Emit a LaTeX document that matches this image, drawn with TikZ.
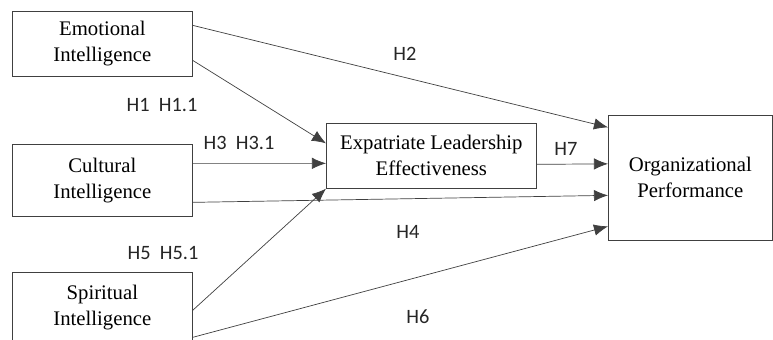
\documentclass[tikz,border=0pt]{standalone}
\usepackage{fontspec}
\setmainfont{Liberation Serif}
\newfontfamily\hypfont{Carlito}
\usetikzlibrary{arrows.meta,calc}

\begin{document}
\begin{tikzpicture}[x=0.02cm,y=-0.02cm,
 box/.style={draw=black!75,anchor=north west,inner sep=0pt,align=center,
  font=\fontsize{11.8}{14.8}\selectfont},
 hyp/.style={font=\hypfont\fontsize{11.6}{13}\selectfont,text=black!85},
 link/.style={draw=black!75,-{Latex[length=8pt,width=6.5pt]}}]

\useasboundingbox (0,0) rectangle (773,339);
%
\node[box,minimum width=3.6cm,minimum height=1.3cm] (emo) at (12,11)
 {Emotional\\Intelligence};
\node[box,minimum width=3.6cm,minimum height=1.44cm] (cul) at (12,144)
 {Cultural\\Intelligence};
\node[box,minimum width=3.6cm,minimum height=1.4cm] (spi) at (12,272)
 {Spiritual\\Intelligence};
\node[box,minimum width=4.2cm,minimum height=1.3cm] (ele) at (326,123)
 {Expatriate Leadership\\Effectiveness};
\node[box,minimum width=3.28cm,minimum height=2.5cm] (perf) at (608,115)
 {Organizational\\Performance};
%
\draw[link] ($(emo.east)+(0,-18.5)$) -- ($(perf.west)+(0,-50.5)$);
\draw[link] ($(emo.east)+(0,16.5)$) -- ($(ele.west)+(0,-12.5)$);
\draw[link] ($(cul.east)+(0,-17)$) -- ($(ele.west)+(0,7.5)$);
\draw[link] ($(cul.east)+(0,22)$) -- ($(perf.west)+(0,17.5)$);
\draw[link] ($(ele.east)+(0,8.5)$) -- ($(perf.west)+(0,-14)$);
\draw[link] ($(spi.east)+(0,3)$) -- (ele.south west);
\draw[link] ($(spi.east)+(0,30)$) -- ($(perf.west)+(0,48.5)$);
%
\node[hyp] (h2) at (405,54) {H2};
\node[hyp] (h1) at (162,105) {H1~~H1.1};
\node[hyp] (h3) at (239,143) {H3~~H3.1};
\node[hyp] (h7) at (566,149) {H7};
\node[hyp] (h4) at (408,232) {H4};
\node[hyp] (h5) at (163,253) {H5~~H5.1};
\node[hyp] (h6) at (418,317) {H6};
\end{tikzpicture}
\end{document}
